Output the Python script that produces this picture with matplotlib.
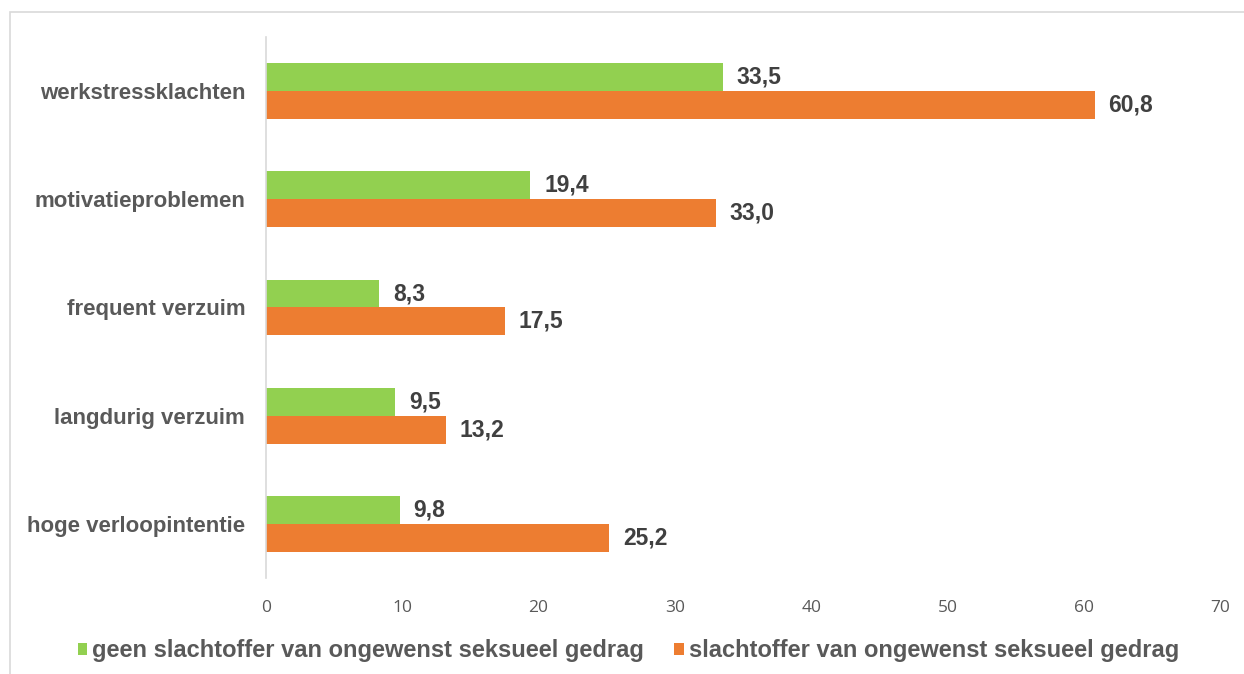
import matplotlib
matplotlib.use("Agg")
import matplotlib.pyplot as plt
from matplotlib.patches import Rectangle
import numpy as np

categories = ["werkstressklachten", "motivatieproblemen", "frequent verzuim",
              "langdurig verzuim", "hoge verloopintentie"]
geen = [33.5, 19.4, 8.3, 9.5, 9.8]
slachtoffer = [60.8, 33.0, 17.5, 13.2, 25.2]
series_names = ["geen slachtoffer van ongewenst seksueel gedrag",
                "slachtoffer van ongewenst seksueel gedrag"]
xticks = [0, 10, 20, 30, 40, 50, 60, 70]

GREEN = "#92D050"
ORANGE = "#ED7D31"

plt.rcParams['font.family'] = ['Liberation Sans', 'DejaVu Sans']

fig = plt.figure(figsize=(12.44, 6.74), dpi=100)
W, H = 1244, 674
ax = fig.add_axes([266 / W, 1 - 578 / H, (1220 - 266) / W, (578 - 37) / H])

y = np.arange(len(categories))
h = 28 / 108.4
ax.barh(y - h / 2, geen, height=h, color=GREEN, label=series_names[0])
ax.barh(y + h / 2, slachtoffer, height=h, color=ORANGE, label=series_names[1])
ax.set_ylim(len(categories) - 0.5, -0.5)
ax.set_xlim(0, 70)

for i, v in enumerate(geen):
    ax.annotate(f"{v:.1f}".replace(".", ","), (v, i - h / 2), xytext=(14, 0),
                textcoords="offset pixels", va="center", ha="left",
                fontsize=16.5, fontweight="bold", color="#404040")
for i, v in enumerate(slachtoffer):
    ax.annotate(f"{v:.1f}".replace(".", ","), (v, i + h / 2), xytext=(14, 0),
                textcoords="offset pixels", va="center", ha="left",
                fontsize=16.5, fontweight="bold", color="#404040")

ax.set_yticks(y)
ax.set_yticklabels(categories, fontsize=16, fontweight="bold", color="#595959")
ax.tick_params(axis="y", length=0, pad=15)
ax.set_xticks(xticks)
ax.set_xticklabels([str(t) for t in xticks], fontsize=12.5, color="#595959",
                   family=["Open Sans", "DejaVu Sans"])
ax.tick_params(axis="x", length=0, pad=16)
for s in ["top", "right", "bottom"]:
    ax.spines[s].set_visible(False)
ax.spines["left"].set_color("#D9D9D9")
ax.spines["left"].set_linewidth(1.2)

leg = fig.legend(loc="center", bbox_to_anchor=(0.505, 1 - 651 / H), ncol=2,
                 frameon=False, handlelength=0.4, handleheight=0.4,
                 handletextpad=0.2, columnspacing=1.3,
                 prop={"size": 17, "weight": "bold"})
for t in leg.get_texts():
    t.set_color("#595959")

# outer chart border (left and top visible)
fig.add_artist(Rectangle((10 / W, -0.05), 1.1, (1 - 12 / H) + 0.05,
                         transform=fig.transFigure, fill=False,
                         edgecolor="#D9D9D9", linewidth=1.2))

fig.savefig("out.png", dpi=100)
